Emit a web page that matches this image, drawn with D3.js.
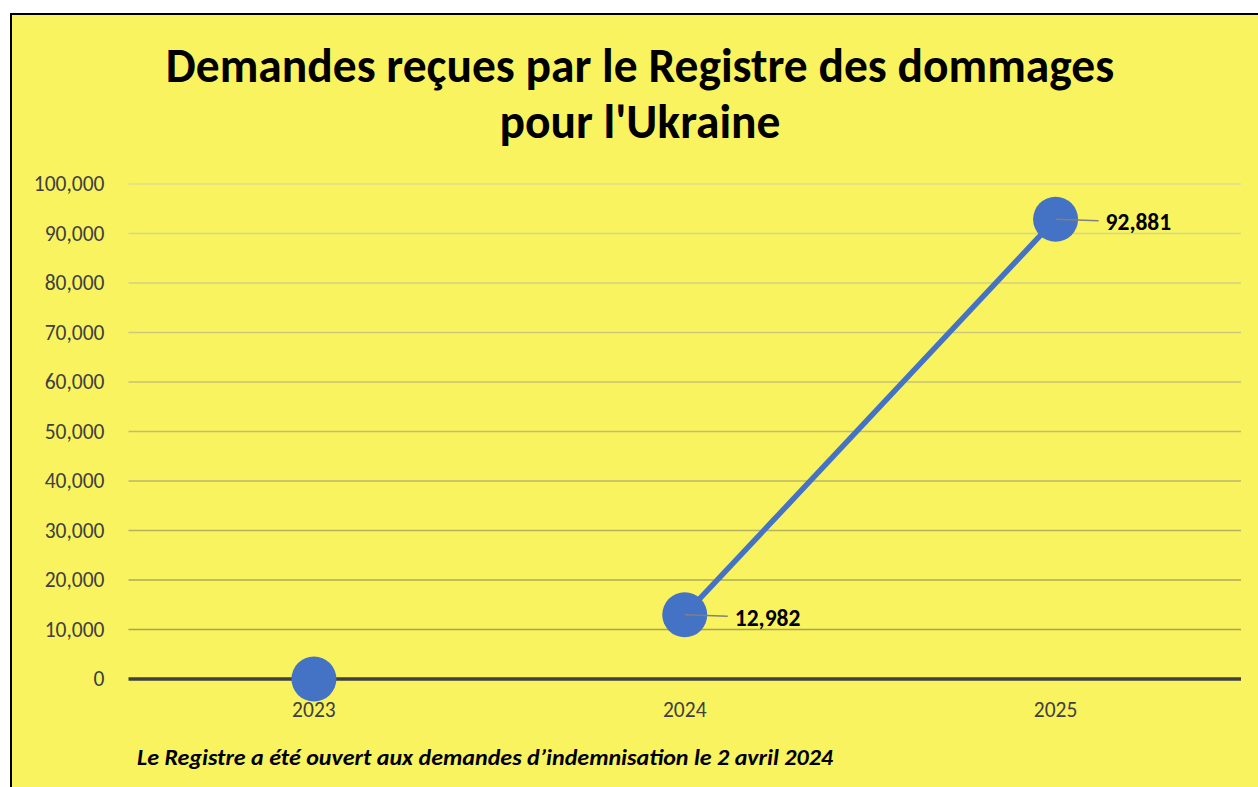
<!DOCTYPE html>
<html>
<head>
<meta charset="utf-8">
<script src="https://cdn.jsdelivr.net/npm/d3@7"></script>
<style>
  html, body { margin: 0; padding: 0; background: #fff; }
  svg { display: block; }
</style>
</head>
<body>
<div id="chart"></div>
<script>
// data
const years = ["2023", "2024", "2025"];
const claims = [0, 12982, 92881];
const yTicks = [0, 10000, 20000, 30000, 40000, 50000, 60000, 70000, 80000, 90000, 100000];
const titleLines = ["Demandes reçues par le Registre des dommages", "pour l'Ukraine"];
const footnote = "Le Registre a été ouvert aux demandes d’indemnisation le 2 avril 2024";

const W = 1258, H = 787;
const margin = {top: 184, right: 17, bottom: 108, left: 128.5};
const width = W - margin.left - margin.right,
    height = H - margin.top - margin.bottom;
const font = "Carlito, Lato, 'Open Sans', sans-serif";

const svg = d3.select("#chart")
    .append("svg")
    .attr("width", W)
    .attr("height", H);

// chart box
svg.append("rect")
    .attr("x", 11).attr("y", 14)
    .attr("width", W + 20).attr("height", H + 20)
    .attr("fill", "#F9F360")
    .attr("stroke", "#000")
    .attr("stroke-width", 2);

// title
svg.append("text")
    .attr("text-anchor", "middle")
    .attr("font-family", font)
    .attr("font-weight", "bold")
    .attr("font-size", 47.5)
    .attr("fill", "#000")
    .selectAll("tspan")
    .data(titleLines)
    .enter()
    .append("tspan")
    .attr("x", 640)
    .attr("y", function(d, i) { return 82 + i * 56; })
    .text(function(d) { return d; });

const g = svg.append("g")
    .attr("transform", "translate(" + margin.left + "," + margin.top + ")");

const x = d3.scaleBand()
    .domain(years)
    .range([0, width]);

const y = d3.scaleLinear()
    .domain([0, 100000])
    .range([height, 0]);

// gridlines get darker toward the bottom
const gridColor = d3.scaleLinear()
    .domain([100000, 0])
    .range(["#dedc95", "#a39e45"]);

g.selectAll(".grid")
    .data(yTicks.filter(function(d) { return d > 0; }))
    .enter()
    .append("line")
    .attr("x1", 0)
    .attr("x2", width)
    .attr("y1", function(d) { return y(d); })
    .attr("y2", function(d) { return y(d); })
    .attr("stroke", function(d) { return gridColor(d); })
    .attr("stroke-width", 1.5);

// Y axis
const yAxis = g.append("g")
    .call(d3.axisLeft(y).tickValues(yTicks).tickFormat(d3.format(",")).tickSize(0).tickPadding(24));
yAxis.select(".domain").remove();
yAxis.selectAll("text")
    .attr("font-family", font)
    .attr("font-size", 21.5)
    .attr("fill", "#404040");

// X axis
const xAxis = g.append("g")
    .attr("transform", "translate(0," + height + ")")
    .call(d3.axisBottom(x).tickSize(0).tickPadding(23));
xAxis.select(".domain").remove();
xAxis.selectAll("text")
    .attr("font-family", font)
    .attr("font-size", 21.5)
    .attr("fill", "#404040");

// zero line
g.append("line")
    .attr("x1", 0)
    .attr("x2", width)
    .attr("y1", y(0))
    .attr("y2", y(0))
    .attr("stroke", "#404040")
    .attr("stroke-width", 3.5);

const points = years.map(function(d, i) { return {year: d, value: claims[i]}; });
const cx = function(d) { return x(d.year) + x.bandwidth() / 2; };

// line (only once the register opened)
const line = d3.line()
    .x(cx)
    .y(function(d) { return y(d.value); });
g.append("path")
    .datum(points.filter(function(d) { return d.value > 0; }))
    .attr("d", line)
    .attr("fill", "none")
    .attr("stroke", "#4472C4")
    .attr("stroke-width", 5.5);

// markers
g.selectAll(".dot")
    .data(points)
    .enter()
    .append("circle")
    .attr("cx", cx)
    .attr("cy", function(d) { return y(d.value); })
    .attr("r", 22.5)
    .attr("fill", "#4472C4");

// data labels with leader lines
const labelled = points.filter(function(d) { return d.value > 0; });
g.selectAll(".leader")
    .data(labelled)
    .enter()
    .append("line")
    .attr("x1", cx)
    .attr("y1", function(d) { return y(d.value); })
    .attr("x2", function(d) { return cx(d) + 43; })
    .attr("y2", function(d) { return y(d.value) + 1.5; })
    .attr("stroke", "#808080")
    .attr("stroke-width", 1.5);

g.selectAll(".label")
    .data(labelled)
    .enter()
    .append("text")
    .attr("x", function(d) { return cx(d) + 50; })
    .attr("y", function(d) { return y(d.value) + 11; })
    .attr("font-family", font)
    .attr("font-weight", "bold")
    .attr("font-size", 23.5)
    .attr("fill", "#000")
    .text(function(d) { return d3.format(",")(d.value); });

// footnote
svg.append("text")
    .attr("x", 137)
    .attr("y", 765)
    .attr("font-family", font)
    .attr("font-weight", "bold")
    .attr("font-style", "italic")
    .attr("font-size", 22)
    .attr("textLength", 696)
    .attr("lengthAdjust", "spacingAndGlyphs")
    .attr("fill", "#000")
    .text(footnote);
</script>
</body>
</html>
